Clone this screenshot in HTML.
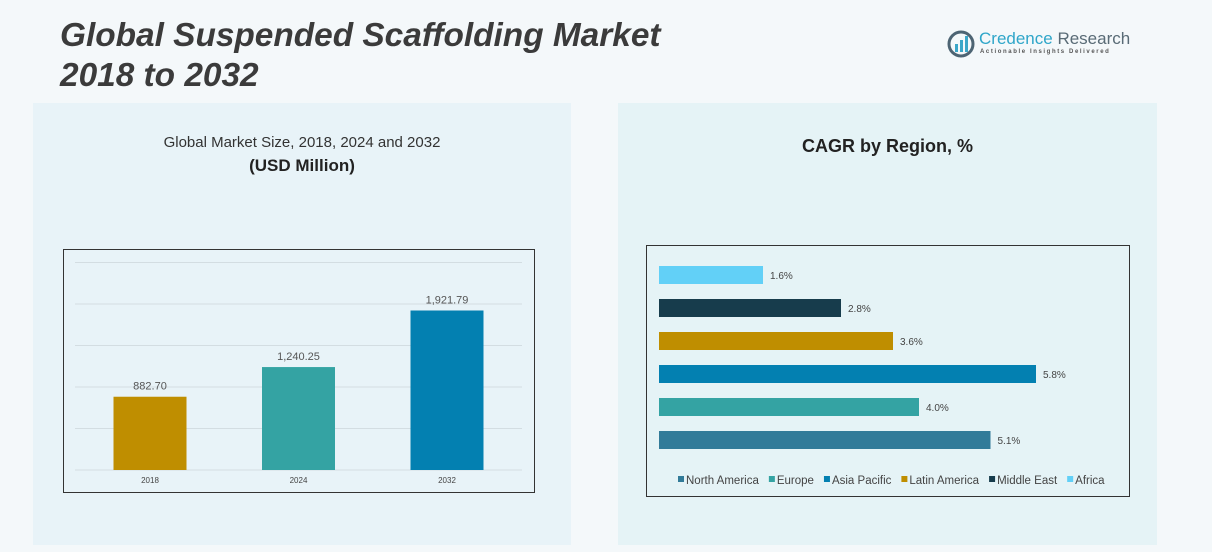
<!DOCTYPE html>
<html><head><meta charset="utf-8"><style>
body{margin:0;width:1212px;height:552px;overflow:hidden;background:#f4f8fa;font-family:"Liberation Sans",sans-serif;position:relative}
.abs{position:absolute}
</style></head><body>
<div class="abs" style="left:33px;top:103px;width:538px;height:442px;background:#e8f3f8"></div>
<div class="abs" style="left:618px;top:103px;width:539px;height:442px;background:#e5f3f6"></div>
<div class="abs" style="left:60px;top:16px;font-size:33.4px;font-weight:bold;font-style:italic;color:#3b3b3b;line-height:40px">Global Suspended Scaffolding Market<br>2018 to 2032</div>
<div class="abs" style="left:947px;top:29px;width:190px;height:32px">
<svg width="28" height="28" style="position:absolute;left:0;top:1px"><circle cx="14" cy="14" r="12" fill="none" stroke="#4d6473" stroke-width="3"/><rect x="8" y="14" width="3" height="8" fill="#3aa6c8"/><rect x="13" y="10" width="3" height="12" fill="#3aa6c8"/><rect x="18" y="6" width="3" height="16" fill="#3aa6c8"/></svg>
<div class="abs" style="left:32px;top:0;font-size:17px;color:#2fa6c9;white-space:nowrap">Credence <span style="color:#596b76">Research</span></div>
<div class="abs" style="left:33px;top:20px;font-size:6px;letter-spacing:1.6px;font-weight:bold;color:#555;white-space:nowrap">Actionable Insights Delivered</div>
</div>
<div class="abs" style="left:33px;width:538px;top:134px;text-align:center;font-size:15px;color:#333">Global Market Size, 2018, 2024 and 2032</div>
<div class="abs" style="left:33px;width:538px;top:156px;text-align:center;font-size:17px;font-weight:bold;color:#222">(USD Million)</div>
<div class="abs" style="left:618px;width:539px;top:136px;text-align:center;font-size:18px;font-weight:bold;color:#222">CAGR by Region, %</div>
<svg class="abs" style="left:0;top:0" width="1212" height="552" id="svg"></svg>
<script>
const years=["2018","2024","2032"];
const sizes=[882.70,1240.25,1921.79];
const sizeLabels=["882.70","1,240.25","1,921.79"];
const yTicks=[0,500,1000,1500,2000,2500];
const regions=["North America","Europe","Asia Pacific","Latin America","Middle East","Africa"];
const cagr=[5.1,4.0,5.8,3.6,2.8,1.6];
const regionColors=["#327b99","#34a3a3","#0380b1","#bf8e00","#173c4c","#62d0f7"];
const barColors=["#bf8e00","#34a3a3","#0380b1"];
const NS="http://www.w3.org/2000/svg";
const svg=document.getElementById('svg');
function mk(t,a,txt){const e=document.createElementNS(NS,t);for(const k in a)e.setAttribute(k,a[k]);if(txt!=null)e.textContent=txt;svg.appendChild(e);return e;}
let f=mk('rect',{x:63.5,y:249.5,width:471,height:243,fill:'none',stroke:'#333','stroke-width':1});


const y0=470,ppu=207.5/2500;
const ys=v=>y0-v*ppu;
yTicks.forEach(t=>{const g=mk('line',{x1:75,x2:522,y1:ys(t),y2:ys(t),stroke:'#d3dde2','stroke-width':1});

});
const xc=i=>150+i*148.5;
years.forEach((yr,i)=>{
const b=mk('rect',{x:xc(i)-36.5,y:ys(sizes[i]),width:73,height:sizes[i]*ppu,fill:barColors[i]});


const l=mk('text',{x:xc(i),y:ys(sizes[i])-7,'text-anchor':'middle','font-size':11,fill:'#555'},sizeLabels[i]);


const x=mk('text',{x:xc(i),y:483,'text-anchor':'middle','font-size':8,fill:'#444'},yr);


});
f=mk('rect',{x:646.5,y:245.5,width:483,height:251,fill:'none',stroke:'#333','stroke-width':1});


const x0=659,ppp=65;
regions.forEach((r,i)=>{
const yy=431-i*33;
const b=mk('rect',{x:x0,y:yy,width:cagr[i]*ppp,height:18,fill:regionColors[i]});


const l=mk('text',{x:x0+cagr[i]*ppp+7,y:yy+13,'font-size':10,fill:'#444'},cagr[i].toFixed(1)+'%');


});
let lx=678;
regions.forEach((r,i)=>{
const s=mk('rect',{x:lx,y:476,width:6,height:6,fill:regionColors[i]});


const t=mk('text',{x:lx+8,y:484,'font-size':11.5,fill:'#444'},r);


lx+=8+t.getComputedTextLength()+10;
});
</script>
</body></html>
